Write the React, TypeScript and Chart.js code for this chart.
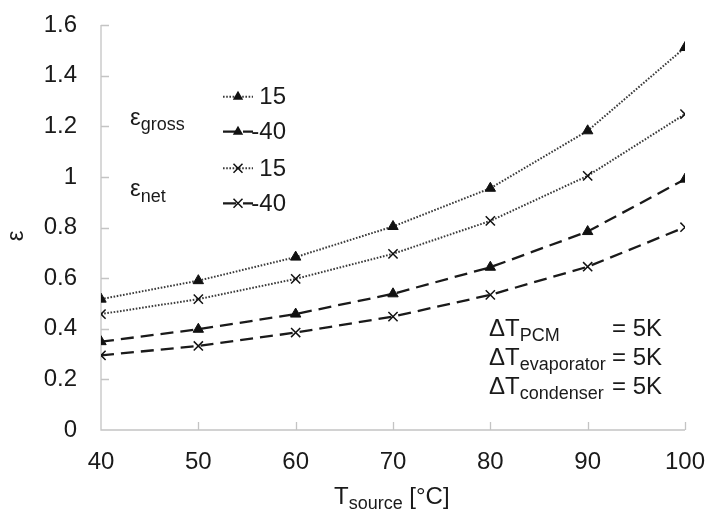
import React, { useEffect, useRef } from "react";
import { Chart, registerables } from "chart.js";

Chart.register(...registerables);

const xValues = [40, 50, 60, 70, 80, 90, 100];
const gross15 = [0.517, 0.59, 0.683, 0.804, 0.955, 1.182, 1.511];
const grossM40 = [0.349, 0.398, 0.458, 0.538, 0.643, 0.784, 0.991];
const net15 = [0.458, 0.517, 0.597, 0.696, 0.826, 1.004, 1.248];
const netM40 = [0.295, 0.332, 0.385, 0.448, 0.534, 0.645, 0.801];
const legendLabels = ["15", "-40", "15", "-40"];
const groupLabels = [
  { main: "ε", sub: "gross" },
  { main: "ε", sub: "net" },
];
const annotationRows = [
  { main: "ΔT", sub: "PCM", value: "= 5K" },
  { main: "ΔT", sub: "evaporator", value: "= 5K" },
  { main: "ΔT", sub: "condenser", value: "= 5K" },
];
const xTitle = { main: "T", sub: "source", rest: " [°C]" };
const yTitle = "ε";

const FONT = "'Liberation Sans', Arial, sans-serif";
const TEXT = "#1a1a1a";
const AXIS = "#c4c4c4";
const DOT = [1.6, 1.6];
const DASH = [13, 7];

const toPts = (arr: number[]) => arr.map((y, i) => ({ x: xValues[i], y }));

const drawMarker = (ctx: CanvasRenderingContext2D, style: string, x: number, y: number) => {
  ctx.save();
  ctx.setLineDash([]);
  ctx.fillStyle = "#111";
  ctx.strokeStyle = "#111";
  if (style === "triangle") {
    const r = 6;
    ctx.beginPath();
    ctx.moveTo(x, y - r);
    ctx.lineTo(x + r * Math.sin((2 * Math.PI) / 3), y + r / 2);
    ctx.lineTo(x - r * Math.sin((2 * Math.PI) / 3), y + r / 2);
    ctx.closePath();
    ctx.fill();
  } else {
    const o = 4.5;
    ctx.lineWidth = 1.5;
    ctx.beginPath();
    ctx.moveTo(x - o, y - o);
    ctx.lineTo(x + o, y + o);
    ctx.moveTo(x + o, y - o);
    ctx.lineTo(x - o, y + o);
    ctx.stroke();
  }
  ctx.restore();
};

const subText = (
  ctx: CanvasRenderingContext2D,
  x: number,
  base: number,
  main: string,
  sub: string,
  mainSize: number,
  subSize: number,
  subDrop: number
) => {
  ctx.font = `${mainSize}px ${FONT}`;
  ctx.fillText(main, x, base);
  const w = ctx.measureText(main).width;
  ctx.font = `${subSize}px ${FONT}`;
  ctx.fillText(sub, x + w, base + subDrop);
  return x + w + ctx.measureText(sub).width;
};

const decorPlugin = {
  id: "decor",
  beforeDatasetsDraw(chart: any) {
    const { ctx, chartArea, scales } = chart;
    const xs = scales.x;
    const ys = scales.y;
    ctx.save();
    ctx.strokeStyle = AXIS;
    ctx.lineWidth = 1.3;
    ctx.setLineDash([]);
    ctx.beginPath();
    ctx.moveTo(chartArea.left, chartArea.top);
    ctx.lineTo(chartArea.left, chartArea.bottom);
    ctx.lineTo(chartArea.right, chartArea.bottom);
    xs.ticks.forEach((t: any) => {
      const px = Math.round(xs.getPixelForValue(t.value)) + 0.5;
      if (t.value === xs.min) return;
      ctx.moveTo(px, chartArea.bottom);
      ctx.lineTo(px, chartArea.bottom - 8);
    });
    ys.ticks.forEach((t: any) => {
      const py = Math.round(ys.getPixelForValue(t.value)) + 0.5;
      if (t.value === ys.min) return;
      ctx.moveTo(chartArea.left, py);
      ctx.lineTo(chartArea.left + 8, py);
    });
    ctx.stroke();
    ctx.restore();
  },
  afterDraw(chart: any) {
    const { ctx } = chart;
    ctx.save();
    ctx.fillStyle = TEXT;
    ctx.textBaseline = "alphabetic";
    ctx.textAlign = "left";

    // legend
    const rowsY = [96.7, 131.7, 168.3, 203.3];
    chart.data.datasets.forEach((ds: any, i: number) => {
      const y = rowsY[i];
      ctx.save();
      ctx.strokeStyle = ds.borderColor;
      ctx.lineWidth = ds.borderWidth;
      ctx.setLineDash(ds.borderDash || []);
      ctx.beginPath();
      ctx.moveTo(223, y);
      ctx.lineTo(253, y);
      ctx.stroke();
      ctx.restore();
      drawMarker(ctx, ds.pointStyle, 238, y);
      ctx.save();
      ctx.font = `24px ${FONT}`;
      ctx.textAlign = "right";
      ctx.textBaseline = "middle";
      ctx.fillStyle = TEXT;
      ctx.fillText(legendLabels[i], 286, y + 1);
      ctx.restore();
    });

    // group labels
    subText(ctx, 130, 125, groupLabels[0].main, groupLabels[0].sub, 24, 18, 5);
    subText(ctx, 130, 196, groupLabels[1].main, groupLabels[1].sub, 24, 18, 6);

    // annotation
    const bases = [336, 365, 394];
    annotationRows.forEach((r, i) => {
      subText(ctx, 489, bases[i], r.main, r.sub, 24, 18, 5);
      ctx.font = `24px ${FONT}`;
      ctx.fillText(r.value, 612, bases[i]);
    });

    // x title
    const end = subText(ctx, 334, 504, xTitle.main, xTitle.sub, 24, 18, 5);
    ctx.font = `24px ${FONT}`;
    ctx.fillText(xTitle.rest, end, 504);

    // y title
    ctx.save();
    ctx.translate(16, 236);
    ctx.rotate(-Math.PI / 2);
    ctx.font = `24px ${FONT}`;
    ctx.textAlign = "center";
    ctx.textBaseline = "middle";
    ctx.fillText(yTitle, 0, 0);
    ctx.restore();

    ctx.restore();
  },
};

export default function App() {
  const ref = useRef<HTMLCanvasElement | null>(null);
  useEffect(() => {
    document.body.style.margin = "0";
    if (!ref.current) return;
    const common = {
      borderColor: "#1a1a1a",
      pointBackgroundColor: "#111",
      pointBorderColor: "#111",
      tension: 0,
      fill: false,
    };
    const chart = new Chart(ref.current, {
      type: "line",
      data: {
        datasets: [
          { ...common, label: "gross 15", data: toPts(gross15), borderWidth: 2, borderDash: DOT, borderColor: "#3a3a3a", pointStyle: "triangle", pointRadius: 6, pointBorderWidth: 1 },
          { ...common, label: "gross -40", data: toPts(grossM40), borderWidth: 2.3, borderDash: DASH, pointStyle: "triangle", pointRadius: 6, pointBorderWidth: 1 },
          { ...common, label: "net 15", data: toPts(net15), borderWidth: 2, borderDash: DOT, borderColor: "#3a3a3a", pointStyle: "crossRot", pointRadius: 6.5, pointBorderWidth: 1.5 },
          { ...common, label: "net -40", data: toPts(netM40), borderWidth: 2.3, borderDash: DASH, pointStyle: "crossRot", pointRadius: 6.5, pointBorderWidth: 1.5 },
        ] as any,
      },
      options: {
        responsive: false,
        animation: false,
        devicePixelRatio: 1,
        layout: { padding: { top: 25, right: 24, left: 0, bottom: 0 } },
        plugins: { legend: { display: false }, tooltip: { enabled: false } },
        scales: {
          x: {
            type: "linear",
            min: 40,
            max: 100,
            ticks: { stepSize: 10, padding: 18, color: TEXT, font: { family: FONT, size: 24 }, maxRotation: 0 },
            grid: { display: false, drawTicks: false },
            border: { display: false },
            afterFit: (s: any) => { s.height = 81; s.paddingLeft = 0; s.paddingRight = 0; },
          },
          y: {
            min: 0,
            max: 1.6,
            ticks: {
              stepSize: 0.2,
              padding: 24,
              color: TEXT,
              font: { family: FONT, size: 24 },
              callback: (v: any) => String(Number(Number(v).toFixed(2))),
            },
            grid: { display: false, drawTicks: false },
            border: { display: false },
            afterFit: (s: any) => { s.width = 101; s.paddingTop = 0; s.paddingBottom = 0; },
          },
        },
      } as any,
      plugins: [decorPlugin],
    });
    return () => chart.destroy();
  }, []);
  return (
    <div style={{ position: "absolute", left: 0, top: 0, width: 709, height: 511 }}>
      <canvas ref={ref} width={709} height={511} style={{ display: "block" }} />
    </div>
  );
}
